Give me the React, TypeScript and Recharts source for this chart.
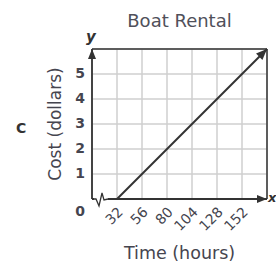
import React from "react";
import { LineChart, Line, XAxis, YAxis, CartesianGrid, ReferenceLine, ReferenceDot, Label } from "recharts";

const hours = [8, 32, 56, 80, 104, 128, 152, 176];
const hourLabels = [32, 56, 80, 104, 128, 152];
const costTicks = [0, 1, 2, 3, 4, 5, 6];
const costLabels = [0, 1, 2, 3, 4, 5];
const rentalHours = [32, 176];
const rentalCost = [0, 6];

const data = rentalHours.map((t, i) => ({ t, c: rentalCost[i] }));

const FONT = "'DejaVu Sans', Verdana, sans-serif";
const INK = "#333";
const TEXT = "#45454f";

function arrowHead(x1: number, y1: number, x2: number, y2: number, len = 10, half = 4) {
  const dx = x2 - x1;
  const dy = y2 - y1;
  const d = Math.hypot(dx, dy) || 1;
  const ux = dx / d;
  const uy = dy / d;
  const bx = x2 - ux * len;
  const by = y2 - uy * len;
  return `${x2},${y2} ${bx - uy * half},${by + ux * half} ${bx + uy * half},${by - ux * half}`;
}

const ArrowLine = (props: any) => {
  const { x1, y1, x2, y2 } = props;
  return (
    <g>
      <line x1={x1} y1={y1} x2={x2} y2={y2} stroke={INK} strokeWidth={1.8} />
      <polygon points={arrowHead(x1, y1, x2, y2)} fill={INK} />
    </g>
  );
};

const LineEnd = (props: any) => {
  const { cx, cy, index, points } = props;
  if (index !== data.length - 1) return <g key={`d-${index}`} />;
  const prev = points && points[index - 1] ? points[index - 1] : { x: cx - 1, y: cy + 1 };
  return <polygon key={`d-${index}`} points={arrowHead(prev.x, prev.y, cx, cy, 11, 4.5)} fill={INK} />;
};

const AxisBreak = (props: any) => {
  const { cx, cy } = props;
  return (
    <g>
      <rect x={cx + 2} y={cy - 2} width={14} height={4} fill="#fff" />
      <path
        d={`M${cx + 1},${cy} L${cx + 4},${cy} L${cx + 7},${cy + 7} L${cx + 10},${cy - 6} L${cx + 12},${cy + 1} L${cx + 16},${cy}`}
        stroke={INK}
        strokeWidth={1.3}
        fill="none"
      />
    </g>
  );
};

const XTick = (props: any) => {
  const { x, payload } = props;
  if (!hourLabels.includes(payload.value)) return <g />;
  const ax = x + 4;
  const ay = 210;
  return (
    <text
      x={ax}
      y={ay}
      textAnchor="end"
      dominantBaseline="middle"
      transform={`rotate(-45, ${ax}, ${ay})`}
      fontFamily={FONT}
      fontSize={14}
      fill={TEXT}
    >
      {payload.value}
    </text>
  );
};

const YTick = (props: any) => {
  const { y, payload } = props;
  if (!costLabels.includes(payload.value)) return <g />;
  const zero = payload.value === 0;
  return (
    <text
      x={80}
      y={zero ? y + 13 : y}
      textAnchor="middle"
      dominantBaseline="middle"
      fontFamily={FONT}
      fontSize={14}
      fontWeight="bold"
      fill={TEXT}
    >
      {payload.value}
    </text>
  );
};

const overlay: React.CSSProperties = {
  position: "absolute",
  fontFamily: FONT,
  color: INK,
  lineHeight: 1,
};

export default function App() {
  return (
    <div style={{ position: "absolute", left: 0, top: 0, width: 276, height: 264, background: "#fff", overflow: "hidden" }}>
      <LineChart width={276} height={264} data={data} margin={{ top: 49, right: 9, bottom: 35, left: 62 }}>
        <CartesianGrid stroke="#cfcfcf" strokeWidth={1.5} />
        <XAxis
          dataKey="t"
          type="number"
          domain={[8, 176]}
          ticks={hours}
          height={30}
          axisLine={false}
          tickLine={false}
          tick={<XTick />}
          interval={0}
        >
          <Label value="Time (hours)" position="center" dy={39} fontFamily={FONT} fontSize={17.5} fill={TEXT} />
        </XAxis>
        <YAxis
          type="number"
          domain={[0, 6]}
          ticks={costTicks}
          width={30}
          axisLine={false}
          tickLine={false}
          tick={<YTick />}
          interval={0}
        >
          <Label value="Cost (dollars)" position="center" angle={-90} dx={-22} fontFamily={FONT} fontSize={17} fill={TEXT} />
        </YAxis>
        <ReferenceLine y={6} stroke={INK} strokeWidth={1.5}>
          <Label value="Boat Rental" position="top" offset={22} fontFamily={FONT} fontSize={18} fill="#50505a" />
        </ReferenceLine>
        <ReferenceLine x={176} stroke={INK} strokeWidth={1.5} />
        <ReferenceLine segment={[{ x: 8, y: 0 }, { x: 176, y: 0 }]} shape={ArrowLine} />
        <ReferenceLine segment={[{ x: 8, y: 0 }, { x: 8, y: 6 }]} shape={ArrowLine} />
        <ReferenceDot x={8} y={0} r={0} shape={AxisBreak} />
        <Line
          dataKey="c"
          type="linear"
          stroke={INK}
          strokeWidth={2}
          dot={LineEnd}
          activeDot={false}
          isAnimationActive={false}
        />
      </LineChart>
      <div style={{ ...overlay, left: 16, top: 121, fontSize: 14, fontWeight: "bold" }}>C</div>
      <div style={{ ...overlay, left: 86, top: 30, fontSize: 15, fontWeight: "bold", fontStyle: "italic" }}>y</div>
      <div style={{ ...overlay, left: 268, top: 191, fontSize: 13, fontWeight: "bold", fontStyle: "italic" }}>x</div>
    </div>
  );
}
